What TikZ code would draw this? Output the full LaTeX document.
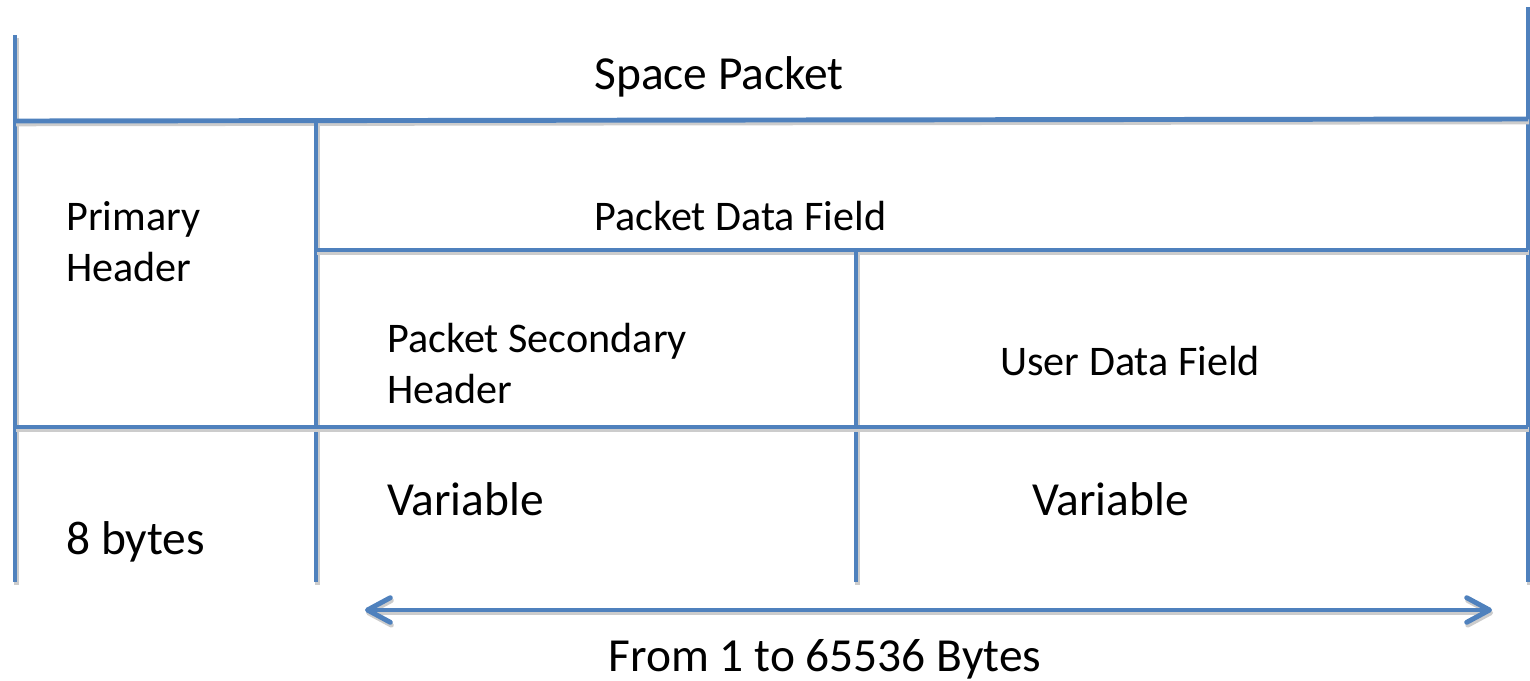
\documentclass[tikz,border=0pt]{standalone}
\usepackage{fontspec}
\setmainfont{Carlito}
\usetikzlibrary{arrows.meta}
\definecolor{rule}{HTML}{4F81BD}
\tikzset{
  grid line/.style={draw=rule, line width=2.8pt,
    preaction={draw=black!20, line width=2.8pt, transform canvas={shift={(0.6pt,-1.6pt)}}}},
  big label/.style={anchor=base west, inner sep=0pt, font=\fontsize{27}{33}\selectfont},
  small label/.style={anchor=base west, inner sep=0pt, align=left, font=\fontsize{24}{29}\selectfont}
}
\begin{document}
\begin{tikzpicture}[x=0.02cm, y=-0.02cm]
\useasboundingbox (0,0) rectangle (1530,680);

% corners of the packet table
\coordinate (lt) at (15,35);
\coordinate (rt) at (1528,7);
\coordinate (l1) at (15,121);
\coordinate (r1) at (1528,119);
\coordinate (m1) at (316,121);
\coordinate (mb) at (316,582);
\coordinate (m2) at (316,250);
\coordinate (r2) at (1528,250);
\coordinate (u2) at (856,250);
\coordinate (ub) at (856,582);
\coordinate (l3) at (15,427);
\coordinate (r3) at (1528,427);
\coordinate (lb) at (15,582);
\coordinate (rb) at (1528,582);

\draw[grid line] (lt) -- (lb);
\draw[grid line] (rt) -- (rb);
\draw[grid line] (l1) -- (r1);
\draw[grid line] (m1) -- (mb);
\draw[grid line] (m2) -- (r2);
\draw[grid line] (u2) -- (ub);
\draw[grid line] (l3) -- (r3);

% labels (base of a two-line label is its last line)
\node[big label] (sp) at (594,89) {Space Packet};
\node[small label] (pdf) at (594,230) {Packet Data Field};
\node[small label] (ph) at (66,281) {Primary\\Header};
\node[small label] (psh) at (387,403) {Packet Secondary\\Header};
\node[small label] (udf) at (1000,375) {User Data Field};
\node[big label] (v1) at (387,515) {Variable};
\node[big label] (v2) at (1032,515) {Variable};
\node[big label] (eight) at (66,554) {8 bytes};

% length arrow
\coordinate (al) at (365,610);
\coordinate (ar) at (1492,610);
\draw[grid line, {Straight Barb[length=13pt,width=14pt,round]}-{Straight Barb[length=13pt,width=14pt,round]}] (al) -- (ar);
\node[big label, anchor=base] (len) at (825,671) {From 1 to 65536 Bytes};

\end{tikzpicture}
\end{document}
